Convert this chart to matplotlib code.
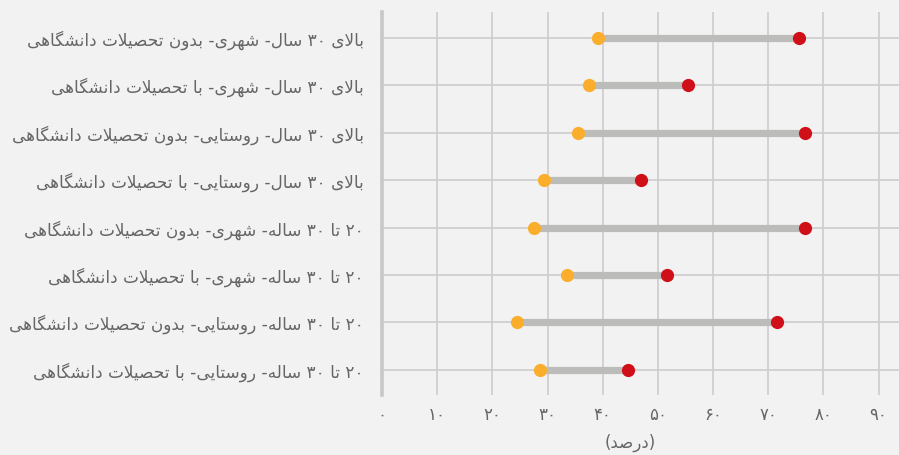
import matplotlib
matplotlib.use("Agg")
import matplotlib.pyplot as plt

# rows from top to bottom
categories = [
    "بالای ۳۰ سال- شهری- بدون تحصیلات دانشگاهی",
    "بالای ۳۰ سال- شهری- با تحصیلات دانشگاهی",
    "بالای ۳۰ سال- روستایی- بدون تحصیلات دانشگاهی",
    "بالای ۳۰ سال- روستایی- با تحصیلات دانشگاهی",
    "۲۰ تا ۳۰ ساله- شهری- بدون تحصیلات دانشگاهی",
    "۲۰ تا ۳۰ ساله- شهری- با تحصیلات دانشگاهی",
    "۲۰ تا ۳۰ ساله- روستایی- بدون تحصیلات دانشگاهی",
    "۲۰ تا ۳۰ ساله- روستایی- با تحصیلات دانشگاهی",
]
low_values = [39.1, 37.6, 35.5, 29.3, 27.5, 33.5, 24.5, 28.7]
high_values = [75.5, 55.5, 76.6, 47.0, 76.6, 51.6, 71.6, 44.6]
x_ticks = [0, 10, 20, 30, 40, 50, 60, 70, 80, 90]
x_label = "(درصد)"

# --- minimal Persian shaping (matplotlib does no shaping / bidi) ---
FORMS = {  # isolated, final, initial, medial
    "ا": ("\uFE8D", "\uFE8E", None, None),
    "ب": ("\uFE8F", "\uFE90", "\uFE91", "\uFE92"),
    "ت": ("\uFE95", "\uFE96", "\uFE97", "\uFE98"),
    "ح": ("\uFEA1", "\uFEA2", "\uFEA3", "\uFEA4"),
    "د": ("\uFEA9", "\uFEAA", None, None),
    "ر": ("\uFEAD", "\uFEAE", None, None),
    "س": ("\uFEB1", "\uFEB2", "\uFEB3", "\uFEB4"),
    "ش": ("\uFEB5", "\uFEB6", "\uFEB7", "\uFEB8"),
    "ص": ("\uFEB9", "\uFEBA", "\uFEBB", "\uFEBC"),
    "ل": ("\uFEDD", "\uFEDE", "\uFEDF", "\uFEE0"),
    "ن": ("\uFEE5", "\uFEE6", "\uFEE7", "\uFEE8"),
    "ه": ("\uFEE9", "\uFEEA", "\uFEEB", "\uFEEC"),
    "و": ("\uFEED", "\uFEEE", None, None),
    "ی": ("\uFBFC", "\uFBFD", "\uFBFE", "\uFBFF"),
    "گ": ("\uFB92", "\uFB93", "\uFB94", "\uFB95"),
    "لا": ("\uFEFB", "\uFEFC", None, None),
}
DIGITS = "۰۱۲۳۴۵۶۷۸۹"
MIRROR = {"(": ")", ")": "("}


def shape(text):
    # merge lam-alef
    units = []
    i = 0
    while i < len(text):
        if text[i] == "ل" and i + 1 < len(text) and text[i + 1] == "ا":
            units.append("لا")
            i += 2
        else:
            units.append(text[i])
            i += 1

    def joins_next(u):  # can connect to the following letter
        return u in FORMS and FORMS[u][2] is not None

    out = []
    for k, u in enumerate(units):
        if u not in FORMS:
            out.append(u)
            continue
        prev_j = k > 0 and joins_next(units[k - 1])
        next_j = k + 1 < len(units) and units[k + 1] in FORMS and joins_next(u)
        iso, fin, ini, med = FORMS[u]
        if prev_j and next_j:
            out.append(med)
        elif prev_j:
            out.append(fin)
        elif next_j:
            out.append(ini)
        else:
            out.append(iso)
    s = "".join(out)[::-1]
    # digits keep left-to-right order, brackets mirror
    res, run = [], ""
    for ch in s:
        if ch in DIGITS:
            run += ch
        else:
            if run:
                res.append(run[::-1])
                run = ""
            res.append(MIRROR.get(ch, ch))
    if run:
        res.append(run[::-1])
    return "".join(res)


def to_fa(n):
    return "".join(DIGITS[int(c)] for c in str(n))


plt.rcParams["font.family"] = ["DejaVu Sans"]
bg = "#f2f2f2"
text_color = "#666666"

fig = plt.figure(figsize=(8.99, 4.55), dpi=100, facecolor=bg)
ax = fig.add_axes([0.4249, 0.132, 0.5751, 0.8416], facecolor=bg)

y = list(range(len(categories)))
ax.hlines(y, low_values, high_values, color="#bcbdbb", linewidth=5.2, zorder=2)
ax.plot(low_values, y, "o", color="#fbae2b", markersize=9.5, markeredgewidth=0, zorder=3)
ax.plot(high_values, y, "o", color="#d01019", markersize=9.5, markeredgewidth=0, zorder=3)

ax.set_xlim(0, 93.7)
ax.set_ylim(7.53, -0.55)
ax.set_xticks(x_ticks)
ax.set_xticklabels([to_fa(t) for t in x_ticks], fontsize=12, color=text_color)
ax.set_yticks(y)
ax.set_yticklabels([shape(c) for c in categories], fontsize=12.2, color=text_color)
ax.tick_params(axis="x", length=0, pad=8)
ax.tick_params(axis="y", length=0, pad=13)

ax.grid(True, color="#cccccc", linewidth=1.2, zorder=0)
ax.set_axisbelow(True)
for s in ["top", "right", "bottom"]:
    ax.spines[s].set_visible(False)
ax.spines["left"].set_color("#c8c8c8")
ax.spines["left"].set_linewidth(2.6)

ax.set_xlabel(shape(x_label), fontsize=12, color=text_color)
ax.xaxis.set_label_coords(45 / 93.7, -0.1)

fig.savefig("out.png", dpi=100, facecolor=bg)
